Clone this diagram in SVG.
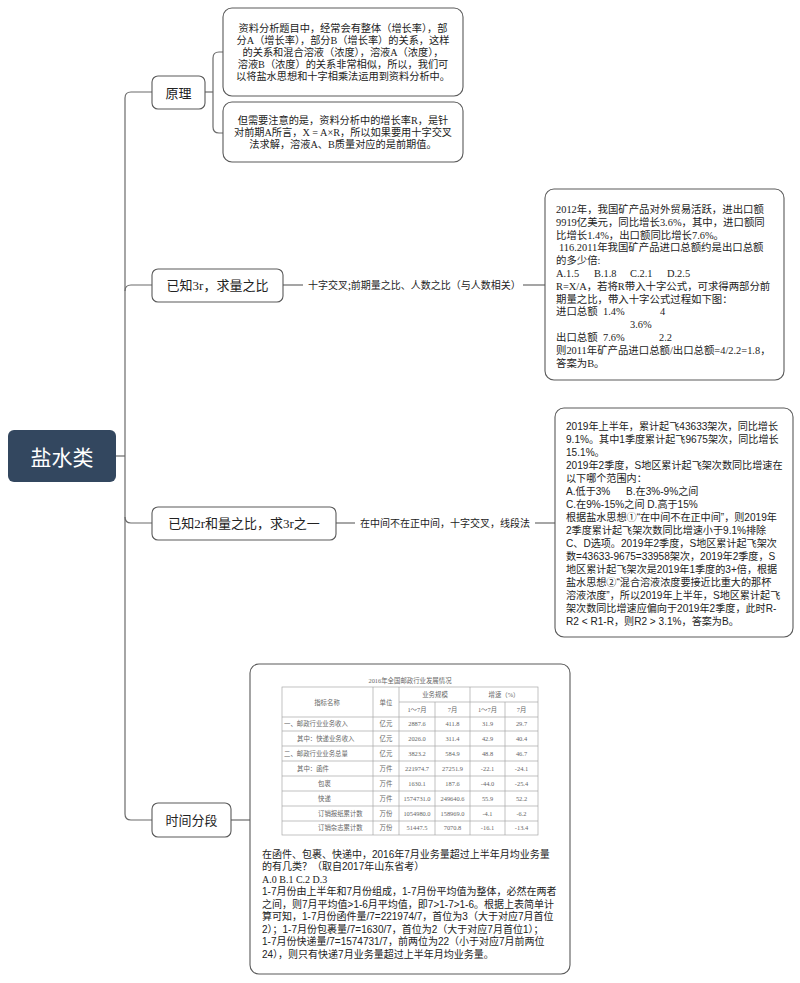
<svg xmlns="http://www.w3.org/2000/svg" width="800" height="983" viewBox="0 0 800 983">
<style>
.box{fill:#fff;stroke:#5a5a5a;stroke-width:1.1}
.ln{fill:none;stroke:#6a6a6a;stroke-width:1.2}
.ser{font-family:'Liberation Serif','Noto Sans CJK SC',serif;fill:#222}
.san{font-family:'Liberation Sans','Noto Sans CJK SC',sans-serif;fill:#222}
.br{font-family:'Liberation Serif','Noto Sans CJK SC',serif;font-size:13px;fill:#222;text-anchor:middle}
.lab{font-family:'Noto Sans CJK SC',sans-serif;font-size:10px;fill:#222}
.tl{fill:none;stroke:#a8a8a8;stroke-width:0.7}
.tt{font-family:'Liberation Serif','Noto Sans CJK SC',serif;font-size:6.4px;fill:#666}
.tc{text-anchor:middle}
</style>
<rect width="800" height="983" fill="#fff"/>

<g id="connectors">
  <path class="ln" d="M116,456 H125"/>
  <path class="ln" d="M125,98 V814"/>
  <path class="ln" d="M125,98 Q125,92 131,92 H152"/>
  <path class="ln" d="M125,291 Q125,285 131,285 H152"/>
  <path class="ln" d="M125,517 Q125,523 131,523 H152"/>
  <path class="ln" d="M125,814 Q125,820 131,820 H152"/>
  <path class="ln" d="M205,92 H213"/>
  <path class="ln" d="M213,58 Q213,52 219,52 H223"/>
  <path class="ln" d="M213,58 V127"/>
  <path class="ln" d="M213,127 Q213,133 219,133 H223"/>
  <path class="ln" d="M283,285 H303"/>
  <path class="ln" d="M523,285 H545"/>
  <path class="ln" d="M336,523 H355"/>
  <path class="ln" d="M535,523 H555"/>
  <path class="ln" d="M231,820 H250"/>
  <text class="lab" x="308" y="288.7">十字交叉;前期量之比、人数之比（与人数相关）</text>
  <text class="lab" x="360" y="526.7">在中间不在正中间，十字交叉，线段法</text>
</g>

<g id="root">
  <rect x="8" y="430" width="108" height="52" rx="6" fill="#33475f"/>
  <text x="62" y="464.5" font-family="'Noto Sans CJK SC',sans-serif" font-size="21" fill="#fff" text-anchor="middle">盐水类</text>
</g>

<g id="yuanli">
  <rect class="box" x="152" y="76" width="53" height="33" rx="6"/>
  <text class="br" x="178.5" y="97.5">原理</text>
</g>

<g id="yuanli-1">
  <rect class="box" x="223" y="8" width="240" height="88" rx="9"/>
  <g class="ser" font-size="10.2" text-anchor="middle">
    <text x="343" y="31.7">资料分析题目中，经常会有整体（增长率），部</text>
    <text x="343" y="43.7">分A（增长率），部分B（增长率）的关系，这样</text>
    <text x="343" y="55.7">的关系和混合溶液（浓度），溶液A（浓度），</text>
    <text x="343" y="67.7">溶液B（浓度）的关系非常相似，所以，我们可</text>
    <text x="343" y="79.7">以将盐水思想和十字相乘法运用到资料分析中。</text>
  </g>
</g>

<g id="yuanli-2">
  <rect class="box" x="223" y="102" width="240" height="60" rx="9"/>
  <g class="ser" font-size="10.2" text-anchor="middle">
    <text x="343" y="123.7">但需要注意的是，资料分析中的增长率R，是针</text>
    <text x="343" y="135.7">对前期A所言，X = A×R，所以如果要用十字交叉</text>
    <text x="343" y="147.7">法求解，溶液A、B质量对应的是前期值。</text>
  </g>
</g>

<g id="known3r">
  <rect class="box" x="152" y="269" width="131" height="33" rx="6"/>
  <text class="br" x="217.5" y="290">已知3r，求量之比</text>
</g>

<g id="known3r-example">
  <rect class="box" x="545" y="189" width="239" height="191" rx="9"/>
  <g class="ser" font-size="10.4">
    <text x="556" y="212.8">2012年，我国矿产品对外贸易活跃，进出口额</text>
    <text x="556" y="225.6">9919亿美元，同比增长3.6%，其中，进口额同</text>
    <text x="556" y="238.5">比增长1.4%，出口额同比增长7.6%。</text>
    <text x="559" y="251.3">116.2011年我国矿产品进口总额约是出口总额</text>
    <text x="556" y="264.1">的多少倍:</text>
    <text y="277"><tspan x="556">A.1.5</tspan><tspan x="594">B.1.8</tspan><tspan x="630">C.2.1</tspan><tspan x="667">D.2.5</tspan></text>
    <text x="556" y="289.8">R=X/A，若将R带入十字公式，可求得两部分前</text>
    <text x="556" y="302.6">期量之比，带入十字公式过程如下图：</text>
    <text y="315.4"><tspan x="556">进口总额</tspan><tspan x="603">1.4%</tspan><tspan x="660">4</tspan></text>
    <text x="630" y="328.3">3.6%</text>
    <text y="341.1"><tspan x="556">出口总额</tspan><tspan x="603">7.6%</tspan><tspan x="659">2.2</tspan></text>
    <text x="556" y="353.9">则2011年矿产品进口总额/出口总额=4/2.2=1.8，</text>
    <text x="556" y="366.8">答案为B。</text>
  </g>
</g>

<g id="known2r">
  <rect class="box" x="152" y="507" width="184" height="33" rx="6"/>
  <text class="br" x="244" y="528">已知2r和量之比，求3r之一</text>
</g>

<g id="known2r-example">
  <rect class="box" x="555" y="408" width="238" height="229" rx="9"/>
  <g class="san" font-size="10.1">
    <text x="566" y="429.7">2019年上半年，累计起飞43633架次，同比增长</text>
    <text x="566" y="442.7">9.1%。其中1季度累计起飞9675架次，同比增长</text>
    <text x="566" y="455.7">15.1%。</text>
    <text x="566" y="468.7">2019年2季度，S地区累计起飞架次数同比增速在</text>
    <text x="566" y="481.7">以下哪个范围内：</text>
    <text y="494.7"><tspan x="566">A.低于3%</tspan><tspan x="626">B.在3%-9%之间</tspan></text>
    <text x="566" y="507.7">C.在9%-15%之间 D.高于15%</text>
    <text x="566" y="520.7">根据盐水思想①“在中间不在正中间”，则2019年</text>
    <text x="566" y="533.7">2季度累计起飞架次数同比增速小于9.1%排除</text>
    <text x="566" y="546.7">C、D选项。2019年2季度，S地区累计起飞架次</text>
    <text x="566" y="559.7">数=43633-9675=33958架次，2019年2季度，S</text>
    <text x="566" y="572.7">地区累计起飞架次是2019年1季度的3+倍，根据</text>
    <text x="566" y="585.7">盐水思想②“混合溶液浓度要接近比重大的那杯</text>
    <text x="566" y="598.7">溶液浓度”，所以2019年上半年，S地区累计起飞</text>
    <text x="566" y="611.7">架次数同比增速应偏向于2019年2季度，此时R-</text>
    <text x="566" y="624.7">R2 &lt; R1-R，则R2 &gt; 3.1%，答案为B。</text>
  </g>
</g>

<g id="shijianfenduan">
  <rect class="box" x="152" y="803" width="79" height="34" rx="6"/>
  <text class="br" x="191.5" y="825">时间分段</text>
</g>

<g id="shijianfenduan-example">
  <rect class="box" x="250" y="664" width="320" height="310" rx="9"/>
  <g id="table">
    <text class="tt tc" x="410" y="682.5" font-size="6.6">2016年全国邮政行业发展情况</text>
    <rect class="tl" x="282" y="687" width="256" height="148"/>
    <path class="tl" d="M399,702 H538 M282,717 H538 M282,731 H538 M282,746 H538 M282,761 H538 M282,776 H538 M282,791 H538 M282,806 H538 M282,821 H538 M373,687 V835 M399,687 V835 M470,687 V835 M435,702 V835 M505,702 V835"/>
    <text class="tt tc" x="327" y="704.5">指标名称</text>
    <text class="tt tc" x="386" y="704.5">单位</text>
    <text class="tt tc" x="435" y="697">业务规模</text>
    <text class="tt tc" x="504" y="697">增速（%）</text>
    <text class="tt tc" x="417" y="712">1～7月</text>
    <text class="tt tc" x="452.5" y="712">7月</text>
    <text class="tt tc" x="487.5" y="712">1～7月</text>
    <text class="tt tc" x="521.5" y="712">7月</text>
    <g class="tt">
      <text x="284" y="726.3">一、邮政行业业务收入</text>
      <text x="297" y="740.8">其中：快递业务收入</text>
      <text x="284" y="755.8">二、邮政行业业务总量</text>
      <text x="297" y="770.8">其中：函件</text>
      <text x="318" y="785.8">包裹</text>
      <text x="318" y="800.8">快递</text>
      <text x="318" y="815.8">订销报纸累计数</text>
      <text x="318" y="830.3">订销杂志累计数</text>
    </g>
    <g class="tt tc">
      <text x="386" y="726.3">亿元</text><text x="417" y="726.3">2887.6</text><text x="452.5" y="726.3">411.8</text><text x="487.5" y="726.3">31.9</text><text x="521.5" y="726.3">29.7</text>
      <text x="386" y="740.8">亿元</text><text x="417" y="740.8">2026.0</text><text x="452.5" y="740.8">311.4</text><text x="487.5" y="740.8">42.9</text><text x="521.5" y="740.8">40.4</text>
      <text x="386" y="755.8">亿元</text><text x="417" y="755.8">3823.2</text><text x="452.5" y="755.8">584.9</text><text x="487.5" y="755.8">48.8</text><text x="521.5" y="755.8">46.7</text>
      <text x="386" y="770.8">万件</text><text x="417" y="770.8">221974.7</text><text x="452.5" y="770.8">27251.9</text><text x="487.5" y="770.8">-22.1</text><text x="521.5" y="770.8">-24.1</text>
      <text x="386" y="785.8">万件</text><text x="417" y="785.8">1630.1</text><text x="452.5" y="785.8">187.6</text><text x="487.5" y="785.8">-44.0</text><text x="521.5" y="785.8">-25.4</text>
      <text x="386" y="800.8">万件</text><text x="417" y="800.8">1574731.0</text><text x="452.5" y="800.8">249640.6</text><text x="487.5" y="800.8">55.9</text><text x="521.5" y="800.8">52.2</text>
      <text x="386" y="815.8">万份</text><text x="417" y="815.8">1054980.0</text><text x="452.5" y="815.8">158969.0</text><text x="487.5" y="815.8">-4.1</text><text x="521.5" y="815.8">-6.2</text>
      <text x="386" y="830.3">万份</text><text x="417" y="830.3">51447.5</text><text x="452.5" y="830.3">7070.8</text><text x="487.5" y="830.3">-16.1</text><text x="521.5" y="830.3">-13.4</text>
    </g>
  </g>
  <g class="san" font-size="10">
    <text x="262" y="857.7">在函件、包裹、快递中，2016年7月业务量超过上半年月均业务量</text>
    <text x="262" y="870.2">的有几类？（取自2017年山东省考）</text>
    <text x="262" y="882.7" font-family="'Liberation Serif',serif">A.0 B.1 C.2 D.3</text>
    <text x="262" y="895.2">1-7月份由上半年和7月份组成，1-7月份平均值为整体，必然在两者</text>
    <text x="262" y="907.7">之间，则7月平均值&gt;1-6月平均值，即7&gt;1-7&gt;1-6。根据上表简单计</text>
    <text x="262" y="920.2">算可知，1-7月份函件量/7=221974/7，首位为3（大于对应7月首位</text>
    <text x="262" y="932.7">2）；1-7月份包裹量/7=1630/7，首位为2（大于对应7月首位1）；</text>
    <text x="262" y="945.2">1-7月份快递量/7=1574731/7，前两位为22（小于对应7月前两位</text>
    <text x="262" y="957.7">24），则只有快递7月业务量超过上半年月均业务量。</text>
  </g>
</g>
</svg>
